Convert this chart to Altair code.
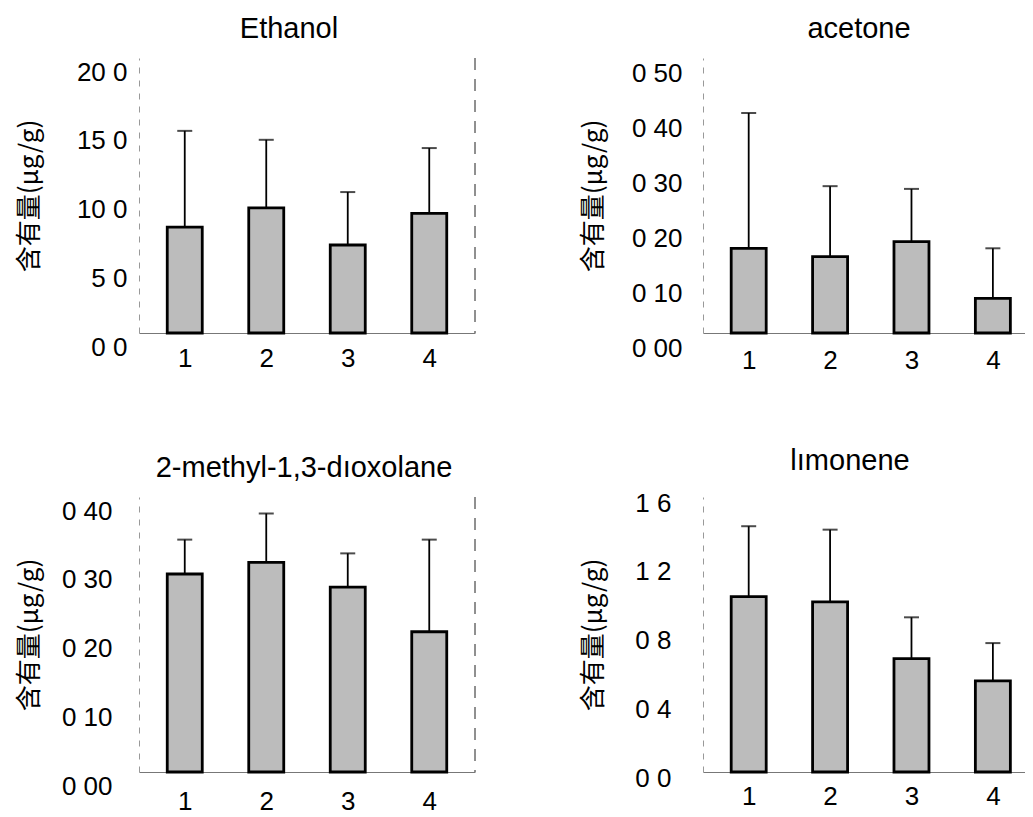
import altair as alt
import pandas as pd

groups = [1, 2, 3, 4]

ethanol_mean = [7.7, 9.1, 6.4, 8.7]
ethanol_err = [7.0, 4.95, 3.85, 4.75]

acetone_mean = [0.154, 0.139, 0.166, 0.063]
acetone_err = [0.246, 0.128, 0.096, 0.091]

dioxolane_mean = [0.288, 0.305, 0.269, 0.204]
dioxolane_err = [0.050, 0.071, 0.049, 0.134]

limonene_mean = [1.02, 0.99, 0.66, 0.53]
limonene_err = [0.41, 0.42, 0.24, 0.22]

y_title = "含有量(µg/g)"

LAT = "Liberation Sans"
CJK = "Noto Sans CJK SC"
H = 275


def panel(title, means, errs, ymax, ticks, fmt, width, label_off, label_pad,
          xlab_pad, title_dx, right_line):
    df = pd.DataFrame({
        "g": groups,
        "mean": means,
        "top": [m + e for m, e in zip(means, errs)],
    })
    xmax = 0.5 + 4 * width / 336.0
    xs = alt.Scale(domain=[0.5, xmax], nice=False, zero=False)
    ys = alt.Scale(domain=[0, ymax], nice=False)
    x = alt.X("g:Q", scale=xs, axis=alt.Axis(
        values=groups, format="d", title=None, ticks=False, grid=False,
        labelFontSize=26, labelFont=LAT, labelColor="black",
        labelPadding=xlab_pad, domainColor="#777", domainWidth=1))
    y = alt.Y("mean:Q", scale=ys, axis=alt.Axis(
        values=ticks,
        labelExpr="replace(format(datum.value, '%s'), '.', ' ')" % fmt,
        title=y_title, titleFont=CJK, titleFontSize=26, titleFontWeight="normal",
        titleColor="black", titleAngle=270, titleX=-110, titleBaseline="middle",
        titleAlign="center",
        ticks=False, grid=False, labelFontSize=26, labelFont=LAT,
        labelColor="black", labelOffset=label_off, labelPadding=label_pad,
        domainColor="#999", domainDash=[6, 7], domainWidth=1))
    base = alt.Chart(df)
    bars = base.mark_bar(size=35, fill="#bcbcbc", stroke="black",
                         strokeWidth=2.8).encode(x=x, y=y)
    err = base.mark_rule(color="black", strokeWidth=1.8).encode(
        x=alt.X("g:Q", scale=xs), y=alt.Y("mean:Q", scale=ys), y2="top:Q")
    cap = base.mark_tick(orient="horizontal", size=15, thickness=2,
                         color="black").encode(
        x=alt.X("g:Q", scale=xs), y=alt.Y("top:Q", scale=ys))
    layers = [bars, err, cap]
    if right_line:
        rl = base.mark_rule(color="#888", strokeWidth=1, strokeDash=[12, 9]).encode(
            x=alt.value(width), y=alt.value(0), y2=alt.value(H))
        layers.append(rl)
    return alt.layer(*layers).properties(
        width=width, height=H,
        view=alt.ViewBackground(stroke="transparent", strokeWidth=0),
        title=alt.TitleParams(title, font=LAT, fontSize=29,
                              fontWeight="normal", color="black",
                              offset=14, dx=title_dx))


p1 = panel("Ethanol", ethanol_mean, ethanol_err, 20, [0, 5, 10, 15, 20], ".1f",
           336, 14, 12, 12, -18, True)
p2 = panel("acetone", acetone_mean, acetone_err, 0.5,
           [0, 0.1, 0.2, 0.3, 0.4, 0.5], ".2f", 322, 15, 21, 14, -5, False)
p3 = panel("2-methyl-1,3-dıoxolane", dioxolane_mean, dioxolane_err, 0.4,
           [0, 0.1, 0.2, 0.3, 0.4], ".2f", 336, 14, 27, 16, -3, True)
p4 = panel("lımonene", limonene_mean, limonene_err, 1.6,
           [0, 0.4, 0.8, 1.2, 1.6], ".1f", 322, 6, 32, 11, -14, False)

chart = alt.concat(p1, p2, p3, p4, columns=2,
                   spacing={"row": 164, "column": 228}, bounds="flush").properties(
    padding={"left": 8, "top": 6, "right": 0, "bottom": 0}
).configure_view(stroke="transparent", strokeWidth=0).configure(background="white")

chart.save("out.html", embed_options={"renderer": "svg", "actions": False})
